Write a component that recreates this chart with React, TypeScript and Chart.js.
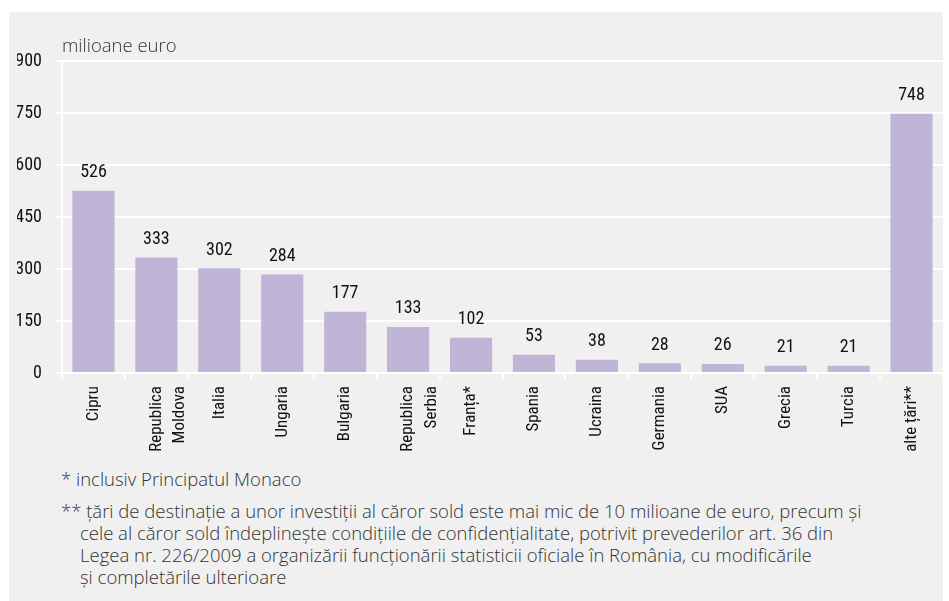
import React, { useEffect, useRef } from "react";
import { Chart, registerables } from "chart.js";

Chart.register(...registerables);

const categories: (string | string[])[] = [
  "Cipru",
  ["Republica", "Moldova"],
  "Italia",
  "Ungaria",
  "Bulgaria",
  ["Republica", "Serbia"],
  "Franța*",
  "Spania",
  "Ucraina",
  "Germania",
  "SUA",
  "Grecia",
  "Turcia",
  "alte țări**",
];
const values: number[] = [526, 333, 302, 284, 177, 133, 102, 53, 38, 28, 26, 21, 21, 748];
const yTicks: number[] = [0, 150, 300, 450, 600, 750, 900];
const unitLabel = "milioane euro";
const footnote1 = "* inclusiv Principatul Monaco";
const footnote2Lines: string[] = [
  "** țări de destinație a unor investiții al căror sold este mai mic de 10 milioane de euro, precum și",
  "cele al căror sold îndeplinește condițiile de confidențialitate, potrivit prevederilor art. 36 din",
  "Legea nr. 226/2009 a organizării funcționării statisticii oficiale în România, cu modificările",
  "și completările ulterioare",
];

const NARROW = '"Roboto Condensed", "DejaVu Sans Condensed", sans-serif';

const valueLabelPlugin = {
  id: "valueLabels",
  afterDatasetsDraw(chart: any) {
    const ctx = chart.ctx;
    const meta = chart.getDatasetMeta(0);
    ctx.save();
    ctx.font = `18px ${NARROW}`;
    ctx.fillStyle = "#111";
    ctx.textAlign = "center";
    ctx.textBaseline = "middle";
    meta.data.forEach((bar: any, i: number) => {
      ctx.fillText(String(values[i]), bar.x, bar.y - 18);
    });
    ctx.font = '300 18.5px "Open Sans", sans-serif';
    ctx.fillStyle = "#333";
    ctx.textAlign = "left";
    ctx.fillText(unitLabel, chart.chartArea.left, chart.chartArea.top - 14);
    ctx.restore();
  },
};

const footStyle: React.CSSProperties = {
  position: "absolute",
  left: 52,
  fontFamily: '"Open Sans", sans-serif',
  fontWeight: 300,
  fontSize: 18.5,
  lineHeight: "22px",
  color: "#333",
  whiteSpace: "nowrap",
};

export default function App() {
  const ref = useRef<HTMLCanvasElement | null>(null);

  useEffect(() => {
    if (!ref.current) return;
    const chart = new Chart(ref.current, {
      type: "bar",
      data: {
        labels: categories as any,
        datasets: [
          {
            data: values,
            backgroundColor: "#c0b5d6",
            borderWidth: 0,
            barPercentage: 0.67,
            categoryPercentage: 1,
          },
        ],
      },
      options: {
        responsive: false,
        animation: false,
        devicePixelRatio: 1,
        layout: { padding: { left: 8, top: 49, right: 0, bottom: 0 } },
        plugins: {
          legend: { display: false },
          tooltip: { enabled: false },
          title: { display: false },
        },
        scales: {
          x: {
            grid: {
              display: true,
              drawOnChartArea: false,
              drawTicks: true,
              tickLength: 6,
              color: "#ffffff",
              lineWidth: 2,
              offset: true,
            },
            border: { display: true, color: "#ffffff", width: 2 },
            ticks: {
              autoSkip: false,
              maxRotation: 90,
              minRotation: 90,
              padding: 7,
              color: "#111",
              font: { family: NARROW, size: 17, lineHeight: 1.4 },
            },
            afterFit: (scale: any) => {
              scale.height = 89;
            },
          },
          y: {
            min: 0,
            max: 900,
            afterBuildTicks: (scale: any) => {
              scale.ticks = yTicks.map((v) => ({ value: v }));
            },
            afterFit: (scale: any) => {
              scale.width = 45;
            },
            grid: {
              color: "#ffffff",
              lineWidth: 2,
              tickLength: 6,
              drawTicks: true,
            },
            border: { display: true, color: "#ffffff", width: 2 },
            ticks: {
              padding: 14,
              color: "#111",
              font: { family: NARROW, size: 18 },
            },
          },
        },
      },
      plugins: [valueLabelPlugin],
    });
    return () => chart.destroy();
  }, []);

  return (
    <div
      style={{
        position: "absolute",
        left: 9,
        top: 12,
        width: 934,
        height: 589,
        background: "#f0f0f0",
        overflow: "hidden",
      }}
    >
      <canvas ref={ref} width={934} height={450} style={{ display: "block" }} />
      <div style={{ ...footStyle, top: 456 }}>{footnote1}</div>
      <div style={{ ...footStyle, top: 488 }}>
        {footnote2Lines.map((line, i) => (
          <div key={i} style={{ paddingLeft: i === 0 ? 0 : 19 }}>
            {line}
          </div>
        ))}
      </div>
    </div>
  );
}
